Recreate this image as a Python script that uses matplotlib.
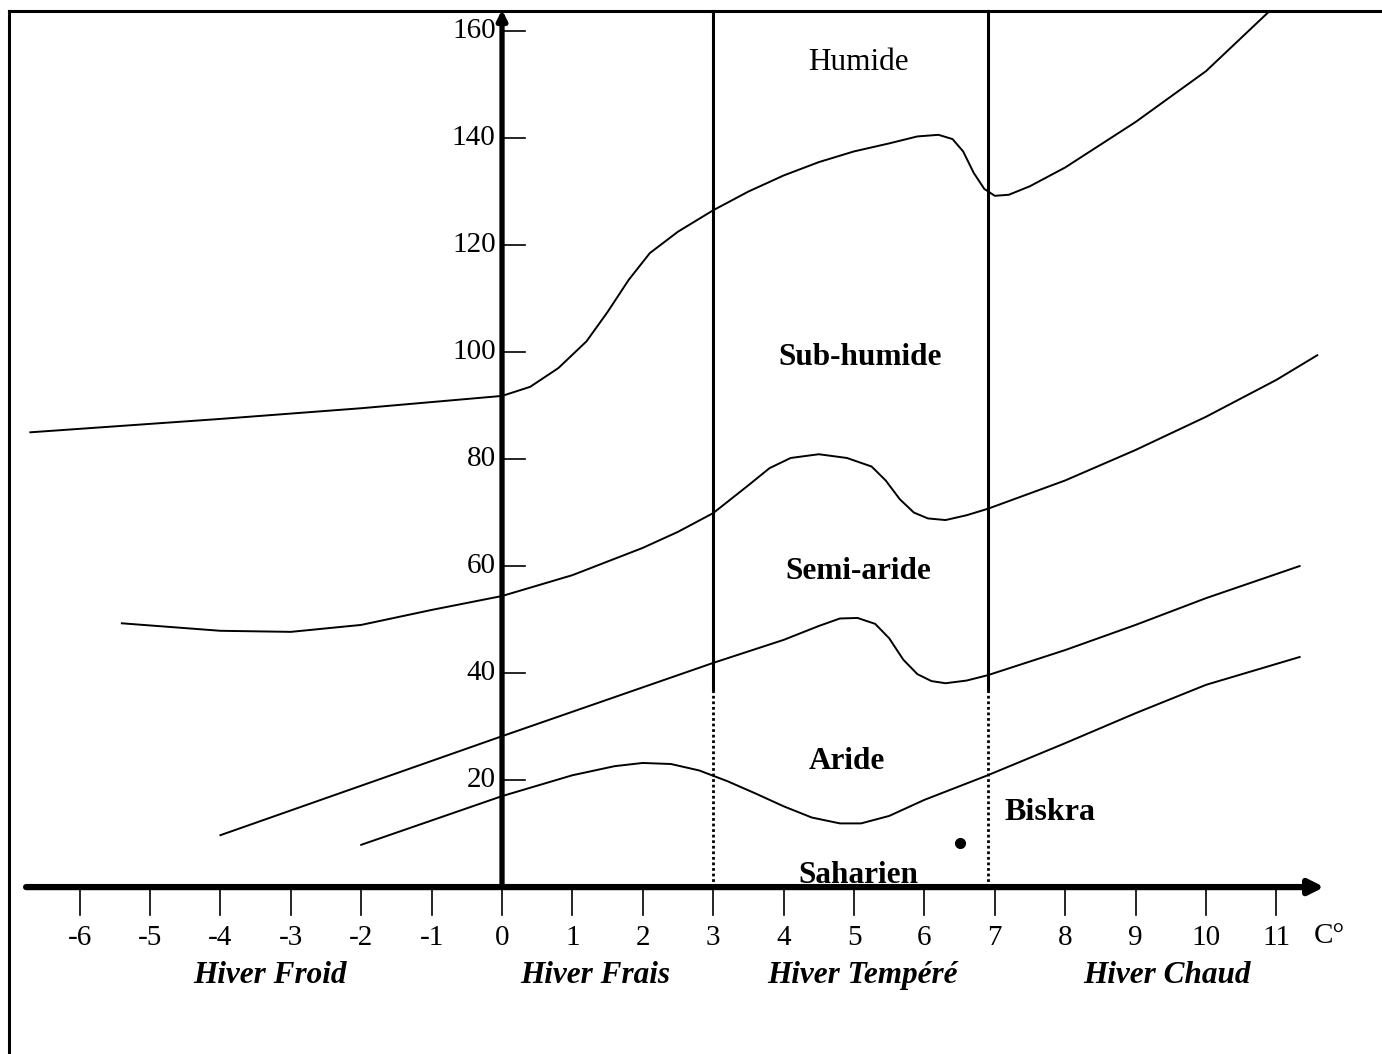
import matplotlib
matplotlib.use('Agg')
import matplotlib.pyplot as plt
from matplotlib.lines import Line2D

plt.rcParams['font.family'] = ['Liberation Serif', 'DejaVu Serif']

# Emberger climagram - limits between bioclimatic stages (m, Q2)
humide_x = [-6.7, -4, -2, 0, 0.4, 0.8, 1.2, 1.5, 1.8, 2.1, 2.5, 3, 3.5, 4, 4.5, 5, 5.5,
            5.9, 6.2, 6.4, 6.55, 6.7, 6.85, 7.0, 7.2, 7.5, 8, 9, 10, 10.9]
humide_y = [85, 87.5, 89.5, 91.8, 93.5, 97, 102, 107.5, 113.5, 118.5, 122.5, 126.5, 130,
            133, 135.5, 137.5, 139, 140.3, 140.6, 139.8, 137.5, 133.5, 130.5, 129.2, 129.4,
            131, 134.5, 143, 152.5, 163.7]

subhum_x = [-5.4, -4, -3, -2, -1, 0, 1, 2, 2.5, 3, 3.5, 3.8, 4.1, 4.5, 4.9, 5.25, 5.45,
            5.65, 5.85, 6.05, 6.3, 6.6, 6.9, 8, 9, 10, 11, 11.58]
subhum_y = [49.3, 47.9, 47.7, 49, 51.8, 54.4, 58.3, 63.4, 66.4, 69.9, 75.1, 78.3, 80.2,
            80.9, 80.2, 78.6, 76, 72.5, 70, 68.9, 68.6, 69.5, 70.7, 76, 81.7, 87.9, 94.8, 99.4]

semiar_x = [-4, 0, 3, 4, 4.5, 4.8, 5.05, 5.3, 5.5, 5.7, 5.9, 6.1, 6.3, 6.6, 6.9, 8, 9, 10, 11.33]
semiar_y = [9.7, 28.2, 41.9, 46.2, 48.8, 50.2, 50.3, 49.2, 46.5, 42.5, 39.8, 38.5, 38.1,
            38.6, 39.6, 44.3, 49, 54, 60]

aride_x = [-2, 0, 1, 1.6, 2, 2.4, 2.8, 3.2, 3.6, 4, 4.4, 4.8, 5.1, 5.5, 6, 6.9, 8, 9, 10, 11.33]
aride_y = [7.9, 17, 20.9, 22.6, 23.2, 23, 21.8, 19.8, 17.5, 15.1, 13, 11.9, 11.9, 13.3,
           16.3, 20.9, 26.9, 32.5, 37.8, 43]

# winter type limits (m)
winter_limits = [3, 6.9]

# station
biskra_m = 6.5
biskra_q = 8.2

x_ticks = list(range(-6, 12))
y_ticks = [20, 40, 60, 80, 100, 120, 140, 160]

stages = ['Humide', 'Sub-humide', 'Semi-aride', 'Aride', 'Saharien']
stage_pos = [(5.06, 154.2), (5.09, 98.9), (5.06, 58.9), (4.9, 23.4), (5.06, 2.2)]
stage_bold = [False, True, True, True, True]

winters = ['Hiver Froid', 'Hiver Frais', 'Hiver Tempéré', 'Hiver Chaud']
winter_x = [-3.3, 1.32, 5.115, 9.45]

fig = plt.figure(figsize=(13.82, 10.54), dpi=100)
ax = fig.add_axes([0, 0, 1, 1])
ax.set_xlim(-7.131, 12.5)
ax.set_ylim(-31.2, 165.8)
ax.axis('off')

# frame (top and left only)
fig.add_artist(Line2D([0.0065, 1], [0.9896, 0.9896], color='k', lw=2.2))
fig.add_artist(Line2D([0.0065, 0.0065], [0, 0.9896], color='k', lw=2.2))

# curves
for xs, ys in [(humide_x, humide_y), (subhum_x, subhum_y), (semiar_x, semiar_y), (aride_x, aride_y)]:
    ax.plot(xs, ys, color='k', lw=1.4)

# vertical limits: solid above, dotted near the axis
for xv in winter_limits:
    ax.plot([xv, xv], [37, 163.7], color='k', lw=2.2)
    ax.plot([xv, xv], [0, 37], color='k', lw=2, linestyle=(0, (1, 1)))

# axes with arrows
ax.annotate('', xy=(11.72, 0), xytext=(-6.8, 0),
            arrowprops=dict(arrowstyle='-|>', lw=4.5, color='k', mutation_scale=22))
ax.annotate('', xy=(0, 164.5), xytext=(0, 0),
            arrowprops=dict(arrowstyle='-|>', lw=3.8, color='k', mutation_scale=14))

# ticks
for xt in x_ticks:
    ax.plot([xt, xt], [0, -5.2], color='k', lw=1.2)
    ax.text(xt, -9.5, str(xt), ha='center', va='center', fontsize=21)
ax.text(11.75, -9.2, 'C°', ha='center', va='center', fontsize=21)
for yt in y_ticks:
    ax.plot([0, 0.33], [yt, yt], color='k', lw=1.2)
    ax.text(-0.09, yt, str(yt), ha='right', va='center', fontsize=21)

# stage names
for name, (px, py), b in zip(stages, stage_pos, stage_bold):
    ax.text(px, py, name, ha='center', va='center', fontsize=22.5,
            fontweight='bold' if b else 'normal')

# winter names
for name, wx in zip(winters, winter_x):
    ax.text(wx, -16.5, name, ha='center', va='center', fontsize=22.5,
            fontweight='bold', fontstyle='italic')

# Biskra
ax.plot([biskra_m], [biskra_q], 'o', color='k', markersize=7)
ax.text(7.78, 14, 'Biskra', ha='center', va='center', fontsize=23, fontweight='bold')

fig.savefig('out.png', dpi=100)
